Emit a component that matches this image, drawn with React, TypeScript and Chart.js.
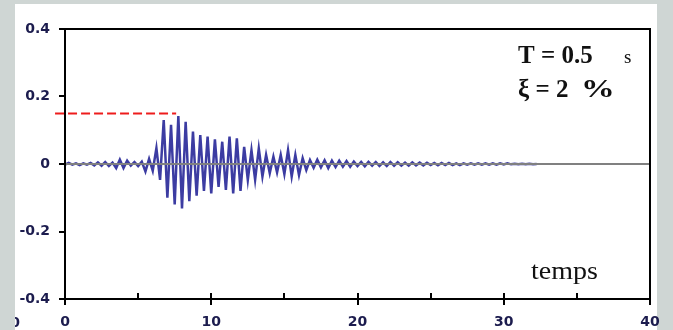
import React, { useEffect, useRef } from 'react';
import { Chart, registerables } from 'chart.js';

Chart.register(...registerables);

// Sampling step of the recorded response (s)
const SAMPLE_STEP = 0.25;

// Response values, one per sample, starting at t = 0
const SIGNAL: number[] = [
  -0.002, 0.003, -0.002, 0.002, -0.003, 0.002, -0.002, 0.003,
  -0.004, 0.005, -0.005, 0.006, -0.006, 0.004,
  -0.012, 0.013, -0.012, 0.010,
  -0.005, 0.006, -0.006, 0.007,
  -0.022, 0.015, -0.020, 0.047, -0.047,
  0.130, -0.100, 0.116, -0.120, 0.142, -0.132, 0.125, -0.110,
  0.096, -0.094, 0.086, -0.080, 0.081, -0.087, 0.073, -0.068,
  0.066, -0.077, 0.081, -0.087, 0.076, -0.080, 0.051, -0.047,
  0.041, -0.047, 0.046, -0.037, 0.027, -0.027, 0.022, -0.025,
  0.027, -0.030, 0.041, -0.037, 0.027, -0.033, 0.017, -0.018,
  0.012, -0.011, 0.013, -0.010, 0.011, -0.012, 0.010, -0.009, 0.010, -0.008, 0.009, -0.008,
  0.007, -0.006, 0.006, -0.007, 0.006, -0.005, 0.006, -0.006, 0.005, -0.006, 0.006, -0.005, 0.005,
  -0.005, 0.004, -0.005, 0.005, -0.004, 0.004, -0.004, 0.004, -0.003, 0.003, -0.004, 0.003, -0.003,
  0.003, -0.003, 0.002, -0.003, 0.002, -0.002, 0.002, -0.002, 0.002, -0.002, 0.002, -0.002, 0.002,
  -0.002, 0.002, -0.001, 0.002, -0.001, 0.001, -0.001, 0.001, -0.001, 0.001, -0.001, 0.0,
];

const X_TICK_LABELS = ['0', '10', '20', '30', '40'];
const Y_TICK_LABELS = ['-0.4', '-0.2', '0', '0.2', '0.4'];

// Red dashed reference level
const REF_LEVEL = 0.15;
const REF_X = [-0.68, 7.6];

// Grey zero line
const ZERO_X = [0, 40];

const TITLE_LINE_1 = 'T = 0.5';
const TITLE_UNIT = 's';
const TITLE_LINE_2 = 'ξ = 2';
const TITLE_PCT = '%';
const AXIS_NAME = 'temps';

const W = 673;
const H = 330;
const LABEL_COLOR = '#1c1c4e';
const LABEL_FONT = { family: '"DejaVu Sans"', size: 14, weight: 'bold' };

const decor = {
  id: 'decor',
  beforeDraw(chart: any) {
    const ctx = chart.ctx;
    ctx.save();
    ctx.fillStyle = '#cfd6d4';
    ctx.fillRect(0, 0, W, H);
    ctx.fillStyle = '#ffffff';
    ctx.fillRect(15, 4, 642, H - 4);
    ctx.restore();
  },
  afterDraw(chart: any) {
    const ctx = chart.ctx;
    const a = chart.chartArea;
    const xs = chart.scales.x;
    ctx.save();
    // frame
    ctx.strokeStyle = '#000';
    ctx.lineWidth = 2;
    ctx.strokeRect(a.left, a.top, a.right - a.left, a.bottom - a.top);
    // inner x ticks
    ctx.beginPath();
    for (const t of xs.ticks) {
      const px = Math.round(xs.getPixelForValue(t.value));
      ctx.moveTo(px, a.bottom);
      ctx.lineTo(px, a.bottom - 6);
    }
    ctx.stroke();
    // annotations
    ctx.fillStyle = '#111';
    ctx.textBaseline = 'alphabetic';
    ctx.textAlign = 'left';
    ctx.font = 'bold 25px "Liberation Serif"';
    ctx.fillText(TITLE_LINE_1, 518, 63);
    ctx.font = '19px "Liberation Serif"';
    ctx.fillText(TITLE_UNIT, 624, 63);
    ctx.font = 'bold 25px "Liberation Serif"';
    ctx.fillText(TITLE_LINE_2, 518, 97);
    ctx.save();
    ctx.translate(581, 97);
    ctx.scale(1.35, 1);
    ctx.fillText(TITLE_PCT, 0, 0);
    ctx.restore();
    ctx.save();
    ctx.translate(531, 279);
    ctx.scale(1.12, 1);
    ctx.font = '25px "Liberation Serif"';
    ctx.fillText(AXIS_NAME, 0, 0);
    ctx.restore();
    // clipped stray label at bottom-left
    ctx.beginPath();
    ctx.rect(15, 4, 642, H - 4);
    ctx.clip();
    ctx.fillStyle = LABEL_COLOR;
    ctx.font = 'bold 14px "DejaVu Sans"';
    ctx.textAlign = 'center';
    ctx.textBaseline = 'middle';
    ctx.fillText(X_TICK_LABELS[0], 15, 323);
    ctx.restore();
  },
};

export default function App() {
  const ref = useRef<HTMLCanvasElement | null>(null);

  useEffect(() => {
    if (!ref.current) return;
    const signalPts = SIGNAL.map((v, i) => ({ x: i * SAMPLE_STEP, y: v }));
    const refPts = REF_X.map((x) => ({ x, y: REF_LEVEL }));
    const zeroPts = ZERO_X.map((x) => ({ x, y: 0 }));

    const chart = new Chart(ref.current, {
      type: 'line',
      data: {
        datasets: [
          {
            data: refPts,
            borderColor: '#ee1c1c',
            borderWidth: 2,
            borderDash: [9, 4],
            pointRadius: 0,
            clip: false as any,
          },
          {
            data: zeroPts,
            borderColor: '#808080',
            borderWidth: 2,
            pointRadius: 0,
          },
          {
            data: signalPts,
            borderColor: '#3c3ca2',
            borderWidth: 2.5,
            pointRadius: 0,
            tension: 0,
          },
        ],
      },
      options: {
        animation: false,
        responsive: false,
        devicePixelRatio: 1,
        layout: { padding: { top: 29, right: 23, left: 0, bottom: 0 } },
        plugins: { legend: { display: false }, tooltip: { enabled: false } },
        scales: {
          x: {
            type: 'linear',
            min: 0,
            max: 40,
            afterFit: (s: any) => { s.height = 31; },
            border: { display: true, color: '#000', width: 2 },
            grid: {
              drawOnChartArea: false,
              drawTicks: true,
              tickLength: 6,
              lineWidth: 2,
              color: (c: any) => (c.tick && c.tick.value % 10 === 0 ? '#000' : 'rgba(0,0,0,0)'),
            },
            ticks: {
              stepSize: 5,
              autoSkip: false,
              maxRotation: 0,
              padding: 9,
              color: LABEL_COLOR,
              font: LABEL_FONT,
              callback: (v: any) => (Number(v) % 10 === 0 ? X_TICK_LABELS[Math.round(Number(v) / 10)] : ''),
            },
          },
          y: {
            type: 'linear',
            min: -0.4,
            max: 0.4,
            afterFit: (s: any) => { s.width = 65; },
            border: { display: true, color: '#000', width: 2 },
            grid: {
              drawOnChartArea: false,
              drawTicks: true,
              tickLength: 6,
              lineWidth: 2,
              color: '#000',
            },
            ticks: {
              stepSize: 0.2,
              padding: 9,
              color: LABEL_COLOR,
              font: LABEL_FONT,
              callback: (v: any) => Y_TICK_LABELS[Math.round((Number(v) + 0.4) / 0.2)],
            },
          },
        },
      },
      plugins: [decor],
    } as any);

    return () => chart.destroy();
  }, []);

  return (
    <div style={{ position: 'fixed', left: 0, top: 0, width: W, height: H }}>
      <canvas ref={ref} width={W} height={H} style={{ display: 'block', width: W, height: H }} />
    </div>
  );
}
